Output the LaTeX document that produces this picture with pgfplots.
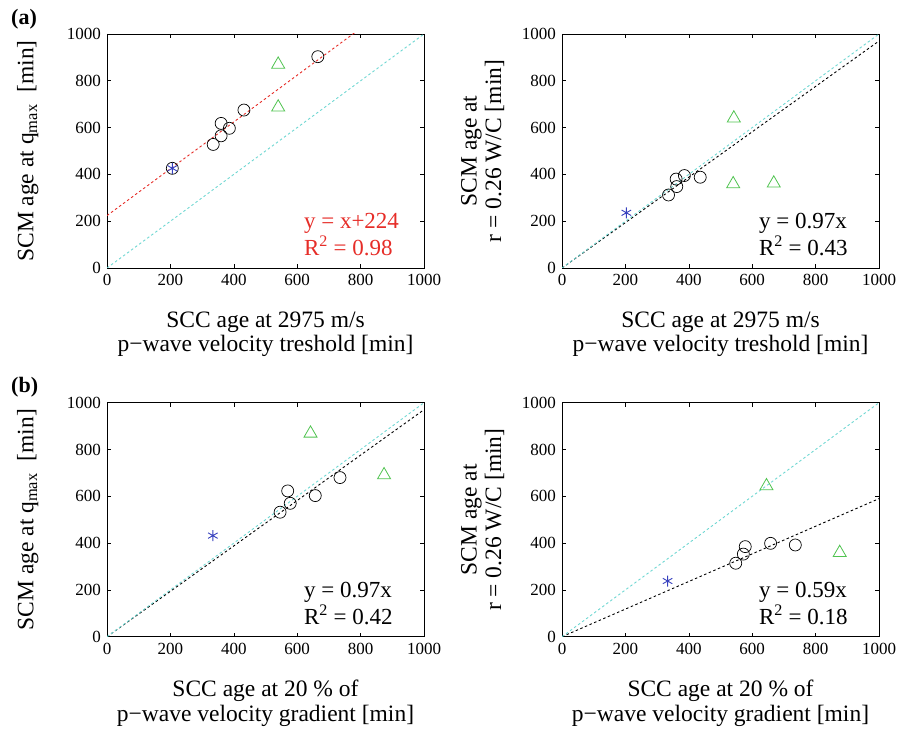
\documentclass[border=0pt]{standalone}
\usepackage{pgfplots}
\pgfplotsset{compat=1.18}
\usepackage{fontspec}
\setmainfont{Liberation Serif}
\definecolor{mygreen}{RGB}{80,195,80}
\definecolor{mycyan}{RGB}{110,215,210}
\definecolor{myred}{RGB}{230,45,40}
\definecolor{myblue}{RGB}{55,65,190}
\tikzset{ann/.style={font=\fontsize{23}{25}\selectfont, anchor=base west, inner sep=0pt}}
\pgfplotsset{
 myax/.style={scale only axis, width=317pt, height=234pt,
  xmin=0,xmax=1000,ymin=0,ymax=1000,
  xtick={0,200,...,1000}, ytick={0,200,...,1000},
  tick align=inside, major tick length=4pt,
  ticklabel style={font=\fontsize{17}{19}\selectfont},
  xticklabel style={yshift=-2.5pt},
  yticklabel style={xshift=-2.5pt},
  /pgf/number format/assume math mode=true,
  /pgf/number format/1000 sep={},
  label style={font=\fontsize{23.5}{24.5}\selectfont},
  xlabel style={at={(axis description cs:0.5,-0.185)}, anchor=north, align=center, inner sep=0pt},
  ylabel style={at={(axis description cs:-0.25,0.5)}, anchor=center, align=center, inner sep=0pt},
  axis line style={line width=0.8pt},
  every tick/.style={black, line width=0.6pt},
  anchor=south west},
 circ/.style={only marks, mark=o, mark size=6pt, black, mark options={line width=0.7pt}},
 tri/.style={only marks, mark=triangle, mark size=7.5pt, mygreen, mark options={line width=0.8pt}},
 ast/.style={only marks, mark=asterisk, mark size=5.5pt, myblue, mark options={line width=0.9pt}},
 reg/.style={no marks, line width=0.9pt, dash pattern=on 2.5pt off 2.5pt}
}
\begin{document}
\begin{tikzpicture}
\useasboundingbox (0pt,0pt) rectangle (904pt,731pt);
\node[anchor=base west, inner sep=0pt, font=\fontsize{22}{24}\selectfont\bfseries] at (11pt,706pt) {(a)};
\node[anchor=base west, inner sep=0pt, font=\fontsize{22}{24}\selectfont\bfseries] at (11pt,338pt) {(b)};
% (a) left
\begin{axis}[myax, at={(107pt,463pt)},
  xlabel={SCC age at 2975 m/s\\p−wave velocity treshold [min]},
  ylabel={SCM age at q\textsubscript{max}\ \ [min]}]
\addplot[reg, mycyan] coordinates {(0,0) (1000,1000)};
\addplot[reg, myred] coordinates {(0,224) (1000,1224)};
\addplot[circ] coordinates {(206,426) (335,528) (360,565) (360,618) (386,597) (432,675) (665,903)};
\addplot[ast] coordinates {(206,426)};
\addplot[tri] coordinates {(540,870) (540,687)};
\node[ann, text=myred] at (axis cs:621,168) {y = x+224};
\node[ann, text=myred] at (axis cs:621,52) {R\textsuperscript{2} = 0.98};
\end{axis}
% (a) right
\begin{axis}[myax, at={(562pt,463pt)},
  xlabel={SCC age at 2975 m/s\\p−wave velocity treshold [min]},
  ylabel={SCM age at\\r = 0.26 W/C [min]}]
\addplot[reg, black] coordinates {(0,0) (1000,970)};
\addplot[reg, mycyan] coordinates {(0,0) (1000,1000)};
\addplot[circ] coordinates {(336,312) (362,348) (360,380) (386,395) (436,388)};
\addplot[ast] coordinates {(203,236)};
\addplot[tri] coordinates {(542,640) (540,359) (668,362)};
\node[ann] at (axis cs:621,168) {y = 0.97x};
\node[ann] at (axis cs:621,52) {R\textsuperscript{2} = 0.43};
\end{axis}
% (b) left
\begin{axis}[myax, at={(107pt,94.3pt)},
  xlabel={SCC age at 20 \% of\\p−wave velocity gradient [min]},
  ylabel={SCM age at q\textsubscript{max}\ \ [min]}]
\addplot[reg, black] coordinates {(0,0) (1000,970)};
\addplot[reg, mycyan] coordinates {(0,0) (1000,1000)};
\addplot[circ] coordinates {(546,532) (578,570) (570,623) (657,603) (735,680)};
\addplot[ast] coordinates {(334,432)};
\addplot[tri] coordinates {(642,869) (874,691)};
\node[ann] at (axis cs:621,168) {y = 0.97x};
\node[ann] at (axis cs:621,52) {R\textsuperscript{2} = 0.42};
\end{axis}
% (b) right
\begin{axis}[myax, at={(562pt,94.3pt)},
  xlabel={SCC age at 20 \% of\\p−wave velocity gradient [min]},
  ylabel={SCM age at\\r = 0.26 W/C [min]}]
\addplot[reg, black] coordinates {(0,0) (1000,590)};
\addplot[reg, mycyan] coordinates {(0,0) (1000,1000)};
\addplot[circ] coordinates {(548,314) (572,353) (578,385) (658,399) (736,392)};
\addplot[ast] coordinates {(333,238)};
\addplot[tri] coordinates {(645,644) (876,359)};
\node[ann] at (axis cs:621,168) {y = 0.59x};
\node[ann] at (axis cs:621,52) {R\textsuperscript{2} = 0.18};
\end{axis}
\end{tikzpicture}
\end{document}
